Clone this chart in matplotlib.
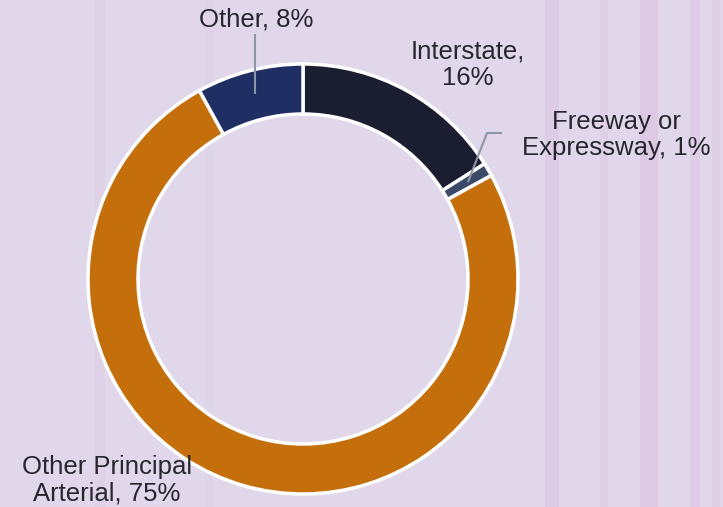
import numpy as np
import matplotlib.pyplot as plt

# share of road miles by functional class
categories = ["Interstate", "Freeway or\nExpressway", "Other Principal\nArterial", "Other"]
label_names = ["Interstate,\n", "Freeway or\nExpressway, ", "Other Principal\nArterial, ", "Other, "]
shares = [16, 1, 75, 8]
colors = ["#1b1d30", "#3b4a68", "#c56f0c", "#1f2e63"]

BG = "#e0d8ea"
TEXT = "#26262e"

W, H = 723, 507
fig = plt.figure(figsize=(W / 100, H / 100), dpi=100, facecolor=BG)
ax = fig.add_axes([0, 0, 1, 1])
ax.set_facecolor(BG)

# faint pink vertical streaks in the background
for x0, w, a in [(95, 10, 0.10), (205, 8, 0.08), (545, 14, 0.20), (600, 8, 0.14),
                 (640, 18, 0.25), (690, 10, 0.18), (712, 8, 0.14)]:
    ax.axvspan(x0, x0 + w, color="#d9a0d4", alpha=a, lw=0, zorder=0)

cx, cy, R, ring = 303, 228, 215, 50
wedges, _ = ax.pie(shares, colors=colors, startangle=90, counterclock=False,
                   center=(cx, cy), radius=R, frame=True,
                   wedgeprops=dict(width=ring, edgecolor="white", linewidth=2.5))
ax.set_xlim(0, W)
ax.set_ylim(0, H)
ax.axis("off")


def mid_point(w, r):
    ang = np.deg2rad((w.theta1 + w.theta2) / 2)
    return cx + r * np.cos(ang), cy + r * np.sin(ang)


fs = 18.5
txt = dict(fontsize=fs, color=TEXT, family="Liberation Sans", ha="center",
           va="center", linespacing=1.15)
lbl = [f"{n}{s}%" for n, s in zip(label_names, shares)]

# Interstate
ax.text(468, 442, lbl[0], **txt)
# Freeway or Expressway, with bent leader line
ax.text(616, 372, lbl[1], **txt)
px, py = mid_point(wedges[1], 192)
ax.plot([px, 487, 501], [py, 374, 374], color="#8a95a8", lw=1.5, zorder=5)
# Other Principal Arterial
ax.text(107, 27, lbl[2], **txt)
# Other, with straight leader line
ax.text(256, 487, lbl[3], **txt)
px, py = mid_point(wedges[3], 192)
ax.plot([px, px], [py, 472], color="#8a95a8", lw=1.5, zorder=5)

fig.savefig("out.png", dpi=100, facecolor=BG)
